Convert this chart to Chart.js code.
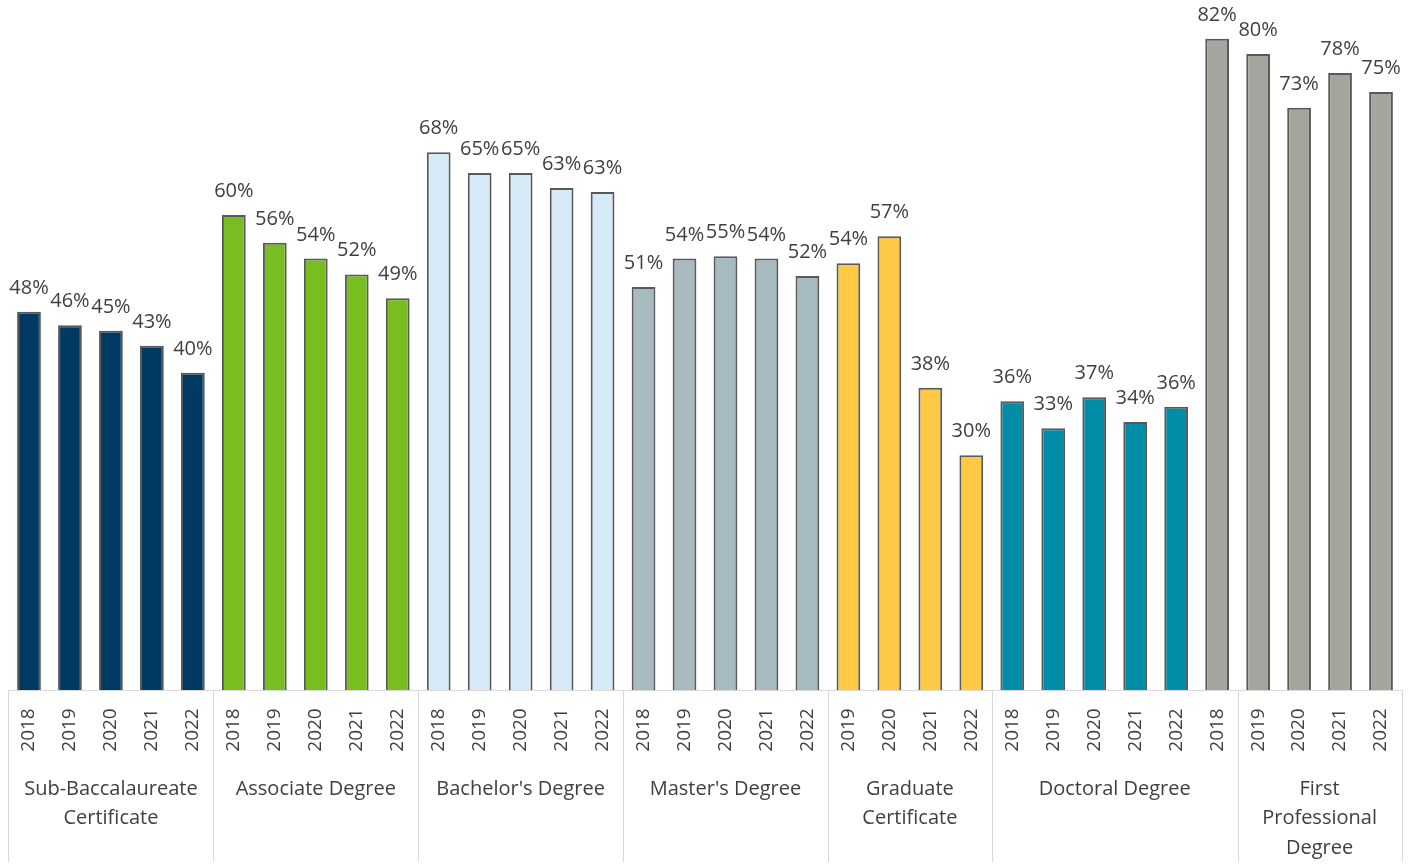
<!DOCTYPE html>
<html>
<head>
<meta charset="utf-8">
<script src="https://cdn.jsdelivr.net/npm/chart.js@4.4.0/dist/chart.umd.min.js"></script>
<style>
  html, body { margin: 0; padding: 0; background: #fff; }
  #wrap { width: 1423px; height: 865px; position: relative; }
</style>
</head>
<body>
<div id="wrap"><canvas id="grafica"></canvas></div>
<script>
// Datos
const years = [
  '2018', '2019', '2020', '2021', '2022',
  '2018', '2019', '2020', '2021', '2022',
  '2018', '2019', '2020', '2021', '2022',
  '2018', '2019', '2020', '2021', '2022',
  '2019', '2020', '2021', '2022',
  '2018', '2019', '2020', '2021', '2022', '2018',
  '2019', '2020', '2021', '2022'
];
const values = [
  47.7, 46.0, 45.3, 43.4, 40.0,
  59.9, 56.4, 54.4, 52.4, 49.4,
  67.8, 65.2, 65.2, 63.3, 62.8,
  50.8, 54.4, 54.7, 54.4, 52.2,
  53.8, 57.2, 38.1, 29.6,
  36.4, 33.0, 36.9, 33.8, 35.7, 82.1,
  80.2, 73.4, 77.8, 75.4
];
// grupo (color) de cada barra
const barSeries = [
  0, 0, 0, 0, 0,
  1, 1, 1, 1, 1,
  2, 2, 2, 2, 2,
  3, 3, 3, 3, 3,
  4, 4, 4, 4,
  5, 5, 5, 5, 5, 6,
  6, 6, 6, 6
];
const groupLabels = [
  ['Sub-Baccalaureate', 'Certificate'],
  ['Associate Degree'],
  ["Bachelor's Degree"],
  ["Master's Degree"],
  ['Graduate', 'Certificate'],
  ['Doctoral Degree'],
  ['First', 'Professional', 'Degree']
];
const groupSizes = [5, 5, 5, 5, 4, 6, 4];

const palette = ['#003A63', '#78BE20', '#D6EAF8', '#A7BAC0', '#FFC845', '#008DA8', '#A5A59D'];
const FONT = '"Open Sans", "Noto Sans", sans-serif';
const TXT = '#404040';

// Plugin: etiquetas de valor y eje de dos niveles
const ejePlugin = {
  id: 'ejeDosNiveles',
  afterDatasetsDraw(chart) {
    const ctx = chart.ctx;
    const meta = chart.getDatasetMeta(0);
    const x = chart.scales.x;
    const area = chart.chartArea;

    ctx.save();
    // etiquetas de valores
    ctx.font = '20px ' + FONT;
    ctx.fillStyle = TXT;
    ctx.textAlign = 'center';
    ctx.textBaseline = 'alphabetic';
    meta.data.forEach((bar, i) => {
      ctx.fillText(Math.round(values[i]) + '%', bar.x, bar.y - 18);
    });

    // línea del eje
    ctx.strokeStyle = '#D9D9D9';
    ctx.lineWidth = 1;
    ctx.beginPath();
    ctx.moveTo(area.left, area.bottom + 0.5);
    ctx.lineTo(area.right, area.bottom + 0.5);
    ctx.stroke();

    const step = x.getPixelForValue(1) - x.getPixelForValue(0);
    const edge = i => x.getPixelForValue(i) - step / 2;

    // separadores
    let start = 0;
    const bounds = [0];
    groupSizes.forEach(n => { start += n; bounds.push(start); });
    bounds.forEach(b => {
      const px = Math.round(edge(b)) + 0.5;
      ctx.beginPath();
      ctx.moveTo(px, area.bottom);
      ctx.lineTo(px, 862);
      ctx.stroke();
    });

    // años girados
    ctx.font = '19px ' + FONT;
    ctx.textAlign = 'center';
    ctx.textBaseline = 'middle';
    years.forEach((y, i) => {
      ctx.save();
      ctx.translate(x.getPixelForValue(i), area.bottom + 40);
      ctx.rotate(-Math.PI / 2);
      ctx.fillText(y, 0, 0);
      ctx.restore();
    });

    // nombres de grupo
    ctx.font = '20px ' + FONT;
    groupLabels.forEach((lines, g) => {
      const cx = (edge(bounds[g]) + edge(bounds[g + 1])) / 2;
      lines.forEach((t, k) => {
        ctx.fillText(t, cx, area.bottom + 99 + k * 29.5);
      });
    });
    ctx.restore();
  }
};

const ctx = document.getElementById('grafica').getContext('2d');
new Chart(ctx, {
  type: 'bar',
  data: {
    labels: years.map((y, i) => i),
    datasets: [{
      data: values,
      backgroundColor: barSeries.map(s => palette[s]),
      borderColor: '#595959',
      borderWidth: 2,
      borderSkipped: 'bottom',
      barPercentage: 0.58,
      categoryPercentage: 1.0
    }]
  },
  options: {
    responsive: true,
    maintainAspectRatio: false,
    animation: false,
    layout: { padding: { left: 8.5, right: 21.5, top: 0, bottom: 175 } },
    plugins: { legend: { display: false }, tooltip: { enabled: false } },
    scales: {
      x: { display: false, grid: { display: false } },
      y: { display: false, min: 0, max: 87, grid: { display: false } }
    }
  },
  plugins: [ejePlugin]
});
</script>
</body>
</html>
